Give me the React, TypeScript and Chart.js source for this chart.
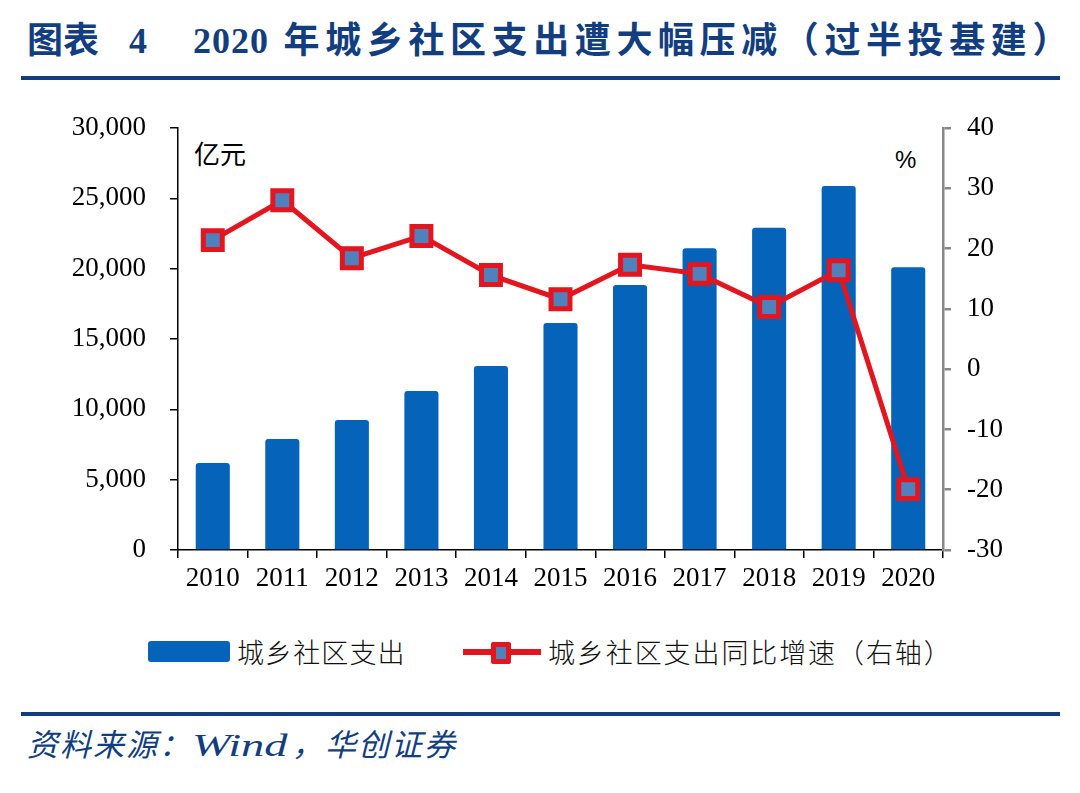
import React, { useEffect, useRef } from "react";
import { Chart, registerables } from "chart.js";

Chart.register(...registerables);

const categories = ["2010", "2011", "2012", "2013", "2014", "2015", "2016", "2017", "2018", "2019", "2020"];
const spending = [6180, 7890, 9240, 11300, 13080, 16130, 18830, 21450, 22900, 25870, 20100];
const growth = [21.4, 28.0, 18.4, 22.1, 15.6, 11.6, 17.3, 15.8, 10.3, 16.4, -19.9];
const leftTicks = [0, 5000, 10000, 15000, 20000, 25000, 30000];
const rightTicks = [-30, -20, -10, 0, 10, 20, 30, 40];

const barLabel = "城乡社区支出";
const lineLabel = "城乡社区支出同比增速（右轴）";

const BAR_COLOR = "#0563BA";
const LINE_COLOR = "#E3151E";
const MARKER_FILL = "#4F81BD";
const NAVY = "#123E7F";
const SERIF = "'Liberation Serif', 'Times New Roman', serif";
const CJK = "'Noto Sans CJK SC', 'Noto Sans', sans-serif";

export default function App() {
  const canvasRef = useRef<HTMLCanvasElement | null>(null);

  useEffect(() => {
    const canvas = canvasRef.current;
    if (!canvas) return;
    const chart = new Chart(canvas, {
      type: "bar",
      data: {
        labels: categories,
        datasets: [
          {
            type: "line",
            label: lineLabel,
            data: growth,
            yAxisID: "y1",
            borderColor: LINE_COLOR,
            borderWidth: 5,
            pointStyle: "rect",
            pointRadius: 13.4,
            pointBorderWidth: 5,
            pointBackgroundColor: MARKER_FILL,
            pointBorderColor: LINE_COLOR,
            tension: 0,
            order: 0,
          } as any,
          {
            type: "bar",
            label: barLabel,
            data: spending,
            yAxisID: "y",
            backgroundColor: BAR_COLOR,
            borderRadius: 3,
            borderSkipped: "bottom",
            barPercentage: 0.49,
            categoryPercentage: 1,
            order: 1,
          },
        ],
      },
      options: {
        animation: false,
        responsive: false,
        maintainAspectRatio: false,
        devicePixelRatio: 1,
        layout: { padding: { top: 28, left: 0, right: 0, bottom: 0 } },
        plugins: {
          legend: { display: false },
          tooltip: { enabled: false },
          title: { display: false },
        },
        scales: {
          x: {
            type: "category",
            offset: true,
            grid: {
              offset: true,
              drawOnChartArea: false,
              drawTicks: true,
              tickLength: 8,
              color: "#000",
              lineWidth: 1.5,
            },
            border: { display: true, color: "#000", width: 1.5 },
            ticks: {
              color: "#000",
              font: { family: SERIF, size: 27 },
              padding: 5,
              maxRotation: 0,
            },
            afterFit: (s: any) => {
              s.height = 60;
            },
          },
          y: {
            type: "linear",
            position: "left",
            min: 0,
            max: 30000,
            afterBuildTicks: (s: any) => {
              s.ticks = leftTicks.map((v) => ({ value: v }));
            },
            grid: {
              drawOnChartArea: false,
              drawTicks: true,
              tickLength: 8,
              color: "#000",
              lineWidth: 1.5,
            },
            border: { display: true, color: "#000", width: 1.5 },
            ticks: {
              color: "#000",
              font: { family: SERIF, size: 27 },
              padding: 24,
              callback: (v: any) => Number(v).toLocaleString("en-US"),
            },
            afterFit: (s: any) => {
              s.width = 178;
              s.paddingTop = 10;
              s.paddingBottom = 10;
            },
          },
          y1: {
            type: "linear",
            position: "right",
            min: -30,
            max: 40,
            afterBuildTicks: (s: any) => {
              s.ticks = rightTicks.map((v) => ({ value: v }));
            },
            grid: {
              drawOnChartArea: false,
              drawTicks: true,
              tickLength: 8,
              color: "#888",
              lineWidth: 2.5,
            },
            border: { display: true, color: "#888", width: 2.5 },
            ticks: {
              color: "#000",
              font: { family: SERIF, size: 27 },
              padding: 16,
            },
            afterFit: (s: any) => {
              s.width = 137;
              s.paddingTop = 10;
              s.paddingBottom = 10;
            },
          },
        },
      },
    });
    return () => chart.destroy();
  }, []);

  return (
    <div
      style={{
        position: "absolute",
        left: 0,
        top: 0,
        width: 1080,
        height: 793,
        background: "#fff",
        overflow: "hidden",
      }}
    >
      {/* Title */}
      <div
        style={{
          position: "absolute",
          top: 16,
          left: 0,
          width: 1080,
          height: 50,
          color: NAVY,
          fontWeight: 700,
          fontSize: 36,
          lineHeight: "50px",
          fontFamily: `${SERIF.split(",")[0]}, ${CJK}`,
          whiteSpace: "nowrap",
        }}
      >
        <span style={{ position: "absolute", left: 27 }}>图表</span>
        <span style={{ position: "absolute", left: 129 }}>4</span>
        <span style={{ position: "absolute", left: 193, letterSpacing: 5.6 }}>
          <span style={{ letterSpacing: 1 }}>2020</span> 年城乡社区支出遭大幅压减（过半投基建）
        </span>
      </div>
      <div
        style={{ position: "absolute", left: 21, top: 76, width: 1039, height: 4, background: NAVY }}
      />

      {/* Units */}
      <div
        style={{
          position: "absolute",
          left: 194,
          top: 136,
          fontFamily: CJK,
          fontSize: 26,
          lineHeight: "34px",
          color: "#000",
        }}
      >
        亿元
      </div>
      <div
        style={{
          position: "absolute",
          left: 895,
          top: 145,
          fontFamily: "'Liberation Sans', Arial, sans-serif",
          fontSize: 24,
          lineHeight: "30px",
          color: "#000",
        }}
      >
        %
      </div>

      <canvas
        ref={canvasRef}
        width={1080}
        height={510}
        style={{ position: "absolute", left: 0, top: 100, width: 1080, height: 510 }}
      />

      {/* Legend */}
      <div style={{ position: "absolute", left: 148, top: 641, width: 82, height: 21, background: BAR_COLOR, borderRadius: 3 }} />
      <div
        style={{
          position: "absolute",
          left: 237,
          top: 633,
          fontFamily: CJK,
          fontSize: 27,
          letterSpacing: 1.1,
          lineHeight: "38px",
          color: "#111",
          fontWeight: 300,
          whiteSpace: "nowrap",
        }}
      >
        {barLabel}
      </div>
      <div style={{ position: "absolute", left: 463, top: 649, width: 78, height: 6, background: LINE_COLOR }} />
      <div
        style={{
          position: "absolute",
          left: 491,
          top: 642,
          width: 10,
          height: 12,
          background: MARKER_FILL,
          border: `5px solid ${LINE_COLOR}`,
          borderRadius: 2,
        }}
      />
      <div
        style={{
          position: "absolute",
          left: 548,
          top: 633,
          fontFamily: CJK,
          fontSize: 27,
          letterSpacing: 1.9,
          lineHeight: "38px",
          color: "#111",
          fontWeight: 300,
          whiteSpace: "nowrap",
        }}
      >
        {lineLabel}
      </div>

      <div
        style={{ position: "absolute", left: 21, top: 712, width: 1039, height: 4, background: NAVY }}
      />
      <div
        style={{
          position: "absolute",
          left: 27,
          top: 726,
          fontFamily: `${SERIF.split(",")[0]}, ${CJK}`,
          fontStyle: "italic",
          fontSize: 31,
          letterSpacing: 2,
          lineHeight: "40px",
          color: NAVY,
          whiteSpace: "nowrap",
        }}
      >
        资料来源：
        <span style={{ display: "inline-block", width: 100 }}>
          <span style={{ display: "inline-block", transform: "scaleX(1.5)", transformOrigin: "left center", letterSpacing: 0 }}>
            Wind
          </span>
        </span>
        ，华创证券
      </div>
    </div>
  );
}
